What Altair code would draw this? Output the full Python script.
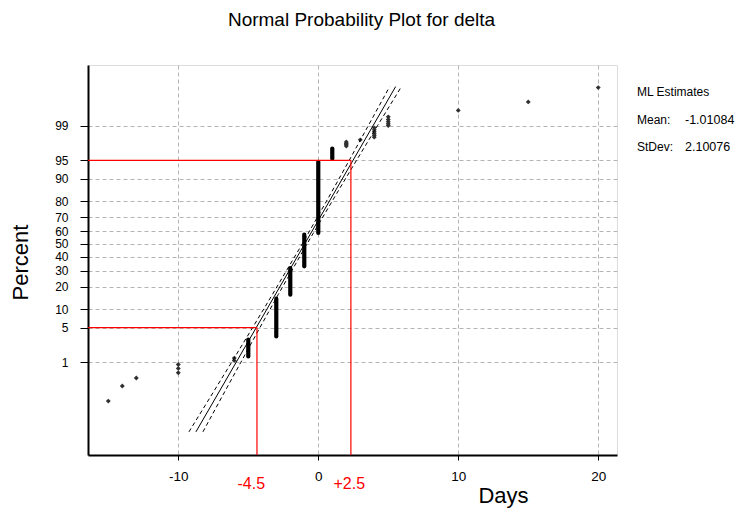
import altair as alt
import pandas as pd
from statistics import NormalDist

# ---- data ----
# dense stacks of points (drawn as thick columns): day, lowest percent, highest percent
col_days = [-5, -3, -2, -1, 0, 1]
col_pct_lo = [1.35, 3.46, 15.9, 33.0, 58.6, 95.3]
col_pct_hi = [3.0, 14.1, 31.8, 57.3, 94.7, 96.97]

# isolated points
pt_days = [-15, -14, -13, -10, -10, -10, -6, -6,
           2, 2, 2, 2, 3,
           4, 4, 4, 4, 4, 4,
           5, 5, 5, 5, 5,
           10, 15, 20]
pt_pct = [0.10, 0.26, 0.42, 0.565, 0.72, 0.89, 1.09, 1.24,
          97.3, 97.45, 97.6, 97.75, 97.97,
          98.22, 98.36, 98.5, 98.63, 98.76, 98.88,
          99.01, 99.1, 99.19, 99.28, 99.38,
          99.57, 99.74, 99.895]

# fitted line
fit_pct = [0.011, 99.902]
fit_days = [-8.74, 5.53]

# confidence bounds
ci_pct = [0.011, 0.1, 1, 5, 16, 50, 84, 95, 99, 99.9]
ci_lower = [-9.24, -7.89, -6.19, -4.69, -3.28, -1.15, 0.90, 2.21, 3.57, 5.09]
ci_upper = [-8.24, -7.05, -5.53, -4.17, -2.86, -0.81, 1.32, 2.73, 4.23, 5.93]

# red reference lines
ref_pct = [5, 95]
ref_days = [-4.38, 2.33]
ref_labels = ["-4.5", "+2.5"]
ref_label_days = [-4.5, 2.5]

y_tick_pct = [1, 5, 10, 20, 30, 40, 50, 60, 70, 80, 90, 95, 99]
x_ticks = [-10, 0, 10, 20]

title_text = "Normal Probability Plot for delta"
est_title = "ML Estimates"
est_names = ["Mean:", "StDev:"]
est_values = ["-1.01084", "2.10076"]

# ---- chart ----
FONT = "Liberation Sans"
W, H = 529, 390
nd = NormalDist()
y_tick_z = [nd.inv_cdf(p / 100) for p in y_tick_pct]

xscale = alt.Scale(domain=[-16.45, 21.34], nice=False, zero=False)
yscale = alt.Scale(domain=[-4.15, 3.52], nice=False, zero=False)

x_axis = alt.Axis(values=x_ticks, labelExpr="'' + datum.value",
                  labelFontSize=13.5, labelFont=FONT,
                  labelColor="black", tickSize=5, tickColor="black",
                  domainColor="black", domainWidth=2, grid=True,
                  gridColor="#b4b4b4", gridDash=[4, 3], labelPadding=9,
                  labelOverlap=False, labelFlush=False,
                  title="Days", titleX=415, titleY=40, titleFontSize=22,
                  titleFont=FONT, titleFontWeight="normal", titleColor="black",
                  titleAlign="center", titleBaseline="middle")
y_axis = alt.Axis(values=y_tick_z,
                  labelExpr="format(cumulativeNormal(datum.value)*100, '.0f')",
                  labelFontSize=12, labelFont=FONT, labelColor="black",
                  tickSize=8, tickColor="black", domainColor="black",
                  domainWidth=2, grid=True, gridColor="#b4b4b4",
                  gridDash=[4, 3], labelPadding=12, labelOverlap=False,
                  labelFlush=False,
                  title="Percent", titleX=-68, titleY=197, titleFontSize=22,
                  titleFont=FONT, titleFontWeight="normal", titleColor="black",
                  titleAlign="center", titleBaseline="middle", titleAngle=-90)

X = alt.X("days:Q", scale=xscale, axis=x_axis)
Y = alt.Y("z:Q", scale=yscale, axis=y_axis)
zcalc = "quantileNormal(datum.pct/100)"

points = alt.Chart(pd.DataFrame({"days": pt_days, "pct": pt_pct})).transform_calculate(
    z=zcalc
).mark_point(shape="diamond", filled=True, size=24, color="#303030", opacity=1).encode(x=X, y=Y)

cols = alt.Chart(pd.DataFrame({"days": col_days, "lo": col_pct_lo, "hi": col_pct_hi})).transform_calculate(
    z="quantileNormal(datum.lo/100)", z2="quantileNormal(datum.hi/100)"
).mark_rule(strokeWidth=4.2, strokeCap="round", color="black").encode(x=X, y=Y, y2="z2:Q")

fit = alt.Chart(pd.DataFrame({"days": fit_days, "pct": fit_pct})).transform_calculate(
    z=zcalc
).mark_line(color="black", strokeWidth=1).encode(x=X, y=Y, order="z:Q")

ci_df = pd.concat([
    pd.DataFrame({"days": ci_lower, "pct": ci_pct, "band": "lower"}),
    pd.DataFrame({"days": ci_upper, "pct": ci_pct, "band": "upper"}),
])
ci = alt.Chart(ci_df).transform_calculate(z=zcalc).mark_line(
    color="black", strokeWidth=1, strokeDash=[4, 3]
).encode(x=X, y=Y, detail="band:N", order="z:Q")

ref_df = pd.DataFrame({"days": ref_days, "pct": ref_pct})
ref_h = alt.Chart(ref_df).transform_calculate(z=zcalc).mark_rule(
    color="#ff0000", strokeWidth=1.2
).encode(x=X, x2=alt.value(0), y=Y)
ref_v = alt.Chart(ref_df).transform_calculate(z=zcalc).mark_rule(
    color="#ff0000", strokeWidth=1.2
).encode(x=X, y=Y, y2=alt.value(H))

ref_text = alt.Chart(pd.DataFrame({"days": ref_label_days, "label": ref_labels})).mark_text(
    color="#ff0000", fontSize=16, font=FONT, baseline="middle", align="center", dx=-4
).encode(x=X, y=alt.value(H + 29), text="label:N")


def txt(s, x, y, size, align="left"):
    return alt.Chart(pd.DataFrame({"t": [s]})).mark_text(
        fontSize=size, font=FONT, color="black", align=align, baseline="middle"
    ).encode(x=alt.value(x), y=alt.value(y), text="t:N")


layers = [points, cols, fit, ci, ref_h, ref_v, ref_text,
          txt(title_text, 273.5, -45, 19, "center"),
          txt(est_title, 549, 27, 12),
          txt(est_names[0], 549, 55, 12),
          txt(est_values[0], 597, 55, 12.5),
          txt(est_names[1], 549, 82, 12),
          txt(est_values[1], 597, 82, 12.5)]

chart = alt.layer(*layers).properties(
    width=W, height=H,
    autosize=alt.AutoSizeParams(type="none"),
    padding={"left": 80, "top": 57, "right": 121, "bottom": 54},
    background="white",
).configure_view(stroke="black", strokeWidth=2).configure(font=FONT)

chart.save("out.html", embed_options={"renderer": "svg", "actions": False})
